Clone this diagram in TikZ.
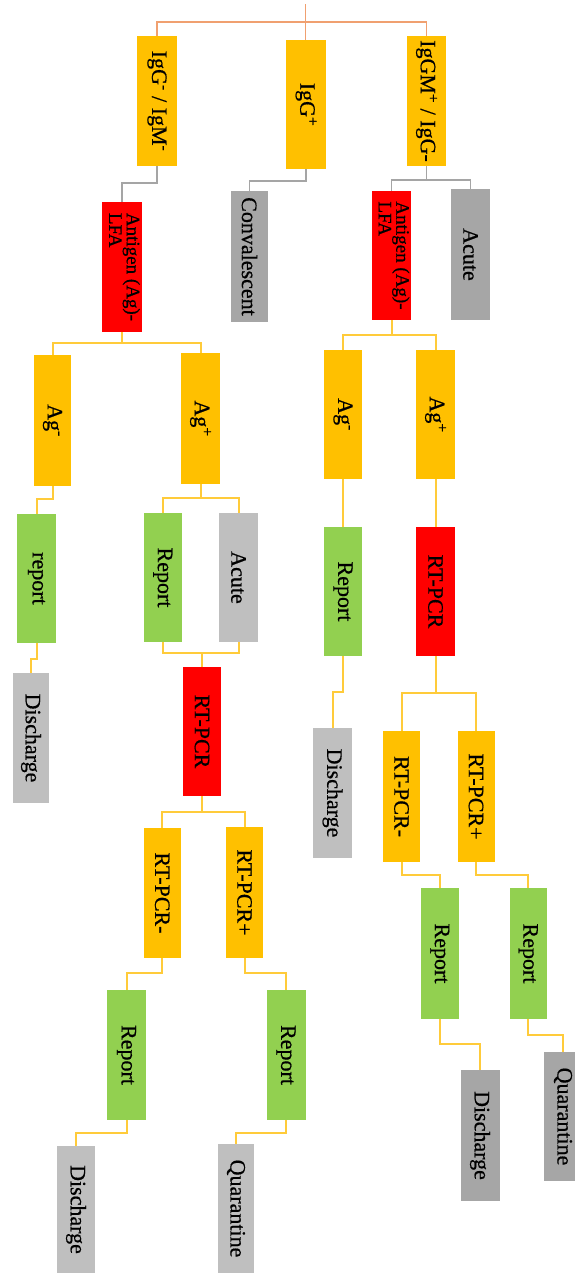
\documentclass[tikz,border=0pt]{standalone}
\usepackage{fontspec}
\setmainfont{Liberation Serif}[RawFeature={embolden=0.6}]
\usepackage{graphicx}
\definecolor{cY}{HTML}{FFC000}
\definecolor{cR}{HTML}{FF0000}
\definecolor{cG}{HTML}{92D050}
\definecolor{cGL}{HTML}{BFBFBF}
\definecolor{cGD}{HTML}{A6A6A6}
\definecolor{cO}{HTML}{F0A070}
\definecolor{cLn}{HTML}{A5A5A5}
\definecolor{cYL}{HTML}{FFCB3A}
\newcommand{\rt}[1]{\rotatebox{-90}{#1}}
\begin{document}
\begin{tikzpicture}[x=1pt,y=-1pt,
  bx/.style={inner sep=0pt, minimum width=38pt, minimum height=130pt, font=\fontsize{22}{24}\selectfont},
  ybox/.style={bx, fill=cY},
  rbox/.style={bx, fill=cR},
  gbox/.style={bx, fill=cG},
  lgbox/.style={bx, fill=cGL},
  dgbox/.style={bx, fill=cGD},
  yl/.style={draw=cYL, line width=2pt},
  gl/.style={draw=cLn, line width=1.6pt},
  ol/.style={draw=cO, line width=1.6pt}]
\useasboundingbox (0,0) rectangle (574,1274);

% level 1
\node[ybox, minimum width=40pt] (igl) at (157,101) {\rt{IgG\textsuperscript{-} / IgM\textsuperscript{-}}};
\node[ybox, minimum width=40pt, minimum height=129pt] (igc) at (306,104.5) {\rt{IgG\textsuperscript{+}}};
\node[ybox, minimum width=39pt] (igr) at (426.5,101) {\rt{IgGM\textsuperscript{+} / IgG-}};

% level 2
\node[rbox, minimum width=40pt] (agl) at (122,267) {\rt{\fontsize{19}{17}\selectfont\begin{tabular}{@{}l@{}}Antigen (Ag)-\\LFA\end{tabular}}};
\node[dgbox, minimum width=37pt, minimum height=131pt] (conv) at (249.5,256.5) {\rt{Convalescent}};
\node[rbox, minimum width=39pt, minimum height=129pt] (agr) at (391.5,255.5) {\rt{\fontsize{19}{17}\selectfont\begin{tabular}{@{}l@{}}Antigen (Ag)-\\LFA\end{tabular}}};
\node[dgbox, minimum width=39pt, minimum height=131pt] (acr) at (470.5,254.5) {\rt{Acute}};

% level 3
\node[ybox, minimum width=37pt, minimum height=131pt] (agml) at (52.5,420.5) {\rt{Ag\textsuperscript{-}}};
\node[ybox, minimum width=39pt, minimum height=131pt] (agpl) at (200.5,418.5) {\rt{Ag\textsuperscript{+}}};
\node[ybox, minimum height=129pt] (agmr) at (343,414.5) {\rt{Ag\textsuperscript{-}}};
\node[ybox, minimum width=39pt, minimum height=129pt] (agpr) at (435.5,414.5) {\rt{Ag\textsuperscript{+}}};

% level 4
\node[gbox, minimum width=39pt, minimum height=129pt] (rep1) at (36.5,578.5) {\rt{report}};
\node[gbox, minimum width=38.5pt, minimum height=129pt] (rep2) at (162.75,577.5) {\rt{Report}};
\node[lgbox, minimum width=39pt, minimum height=129pt] (acl) at (238.5,577.5) {\rt{Acute}};
\node[gbox, minimum height=129pt] (rep3) at (343,591.5) {\rt{Report}};
\node[rbox, minimum width=39pt, minimum height=129pt] (rtr) at (435.5,591.5) {\rt{RT-PCR}};

% level 5
\node[lgbox, minimum width=36pt] (dis1) at (31,738) {\rt{Discharge}};
\node[rbox, minimum height=129pt] (rtl) at (202,731.5) {\rt{RT-PCR}};
\node[lgbox, minimum width=39pt] (dis2) at (332.5,793) {\rt{Discharge}};
\node[ybox, minimum width=37pt, minimum height=131pt] (rtmr) at (401.5,796.5) {\rt{RT-PCR-}};
\node[ybox, minimum width=37pt, minimum height=131pt] (rtpr) at (476,796.5) {\rt{RT-PCR+}};

% level 6
\node[ybox, minimum width=37.5pt] (rtml) at (162.25,893) {\rt{RT-PCR-}};
\node[ybox, minimum width=37pt, minimum height=131pt] (rtpl) at (244.5,892.5) {\rt{RT-PCR+}};
\node[gbox, minimum width=37.5pt, minimum height=131pt] (rep6) at (439.8,953.5) {\rt{Report}};
\node[gbox, minimum width=37.5pt, minimum height=131pt] (rep7) at (528.25,953.5) {\rt{Report}};

% level 7
\node[gbox, minimum width=39pt] (rep4) at (126.5,1055) {\rt{Report}};
\node[gbox, minimum width=39pt] (rep5) at (286,1055) {\rt{Report}};
\node[dgbox, minimum width=39pt, minimum height=131pt] (dis4) at (480,1135.5) {\rt{Discharge}};
\node[dgbox, minimum height=129pt] (qua2) at (563,1116.5) {\rt{Quarantine}};

% level 8
\node[lgbox, minimum height=127pt] (dis3) at (76,1209.5) {\rt{Discharge}};
\node[lgbox, minimum width=36pt, minimum height=129pt] (qua1) at (236,1208.5) {\rt{Quarantine}};

% top connectors
\coordinate (top) at (305.5,4);
\coordinate (hl) at (305.5,22);
\draw[ol] (top) -- (305.5,40);
\draw[ol] (igl.north) |- (hl) -| (igr.north);

% grey connectors
\draw[gl] (igl.south) -- ++(0,17) -| (agl.north);
\draw[gl] (igc.south) -- ++(0,12) -| (conv.north);
\path (igr.south) ++(0,14) coordinate (j1);
\draw[gl] (igr.south) -- (j1);
\draw[gl] (agr.north) |- (j1) -| (acr.north);

% yellow connectors
\path (agl.south) ++(0,11) coordinate (j2);
\draw[yl] (agl.south) -- (j2);
\draw[yl] (agml.north) |- (j2) -| (agpl.north);

\path (agr.south) ++(0,15) coordinate (j3);
\draw[yl] (agr.south) -- (j3);
\draw[yl] (agmr.north) |- (j3) -| (agpr.north);

\draw[yl] (agml.south) -- ++(0,13) -| (rep1.north);

\path (agpl.south) ++(0,14) coordinate (j4);
\draw[yl] (agpl.south) -- (j4);
\draw[yl] (rep2.north) |- (j4) -| (acl.north);

\draw[yl] (agmr.south) -- (rep3.north);
\draw[yl] (agpr.south) -- (rtr.north);

\draw[yl] (rep1.south) -- ++(0,16) -| (dis1.north);

\path (rtl.north) ++(0,-14) coordinate (m1);
\draw[yl] (rep2.south) |- (m1) -| (acl.south);
\draw[yl] (m1) -- (rtl.north);

\draw[yl] (rep3.south) -- ++(0,36) -| (dis2.north);

\path (rtr.south) ++(0,37) coordinate (j5);
\draw[yl] (rtr.south) -- (j5);
\draw[yl] (rtmr.north) |- (j5) -| (rtpr.north);

\path (rtl.south) ++(0,16) coordinate (j6);
\draw[yl] (rtl.south) -- (j6);
\draw[yl] (rtml.north) |- (j6) -| (rtpl.north);

\draw[yl] (rtml.south) -- ++(0,15) -| (rep4.north);
\draw[yl] (rtpl.south) -- ++(0,15) -| (rep5.north);
\draw[yl] (rtmr.south) -- ++(0,13) -| (rep6.north);
\draw[yl] (rtpr.south) -- ++(0,13) -| (rep7.north);

\draw[yl] (rep4.south) -- ++(0,13) -| (dis3.north);
\draw[yl] (rep5.south) -- ++(0,13) -| (qua1.north);
\draw[yl] (rep6.south) -- ++(0,25) -| (dis4.north);
\draw[yl] (rep7.south) -- ++(0,16) -| (qua2.north);
\end{tikzpicture}
\end{document}
